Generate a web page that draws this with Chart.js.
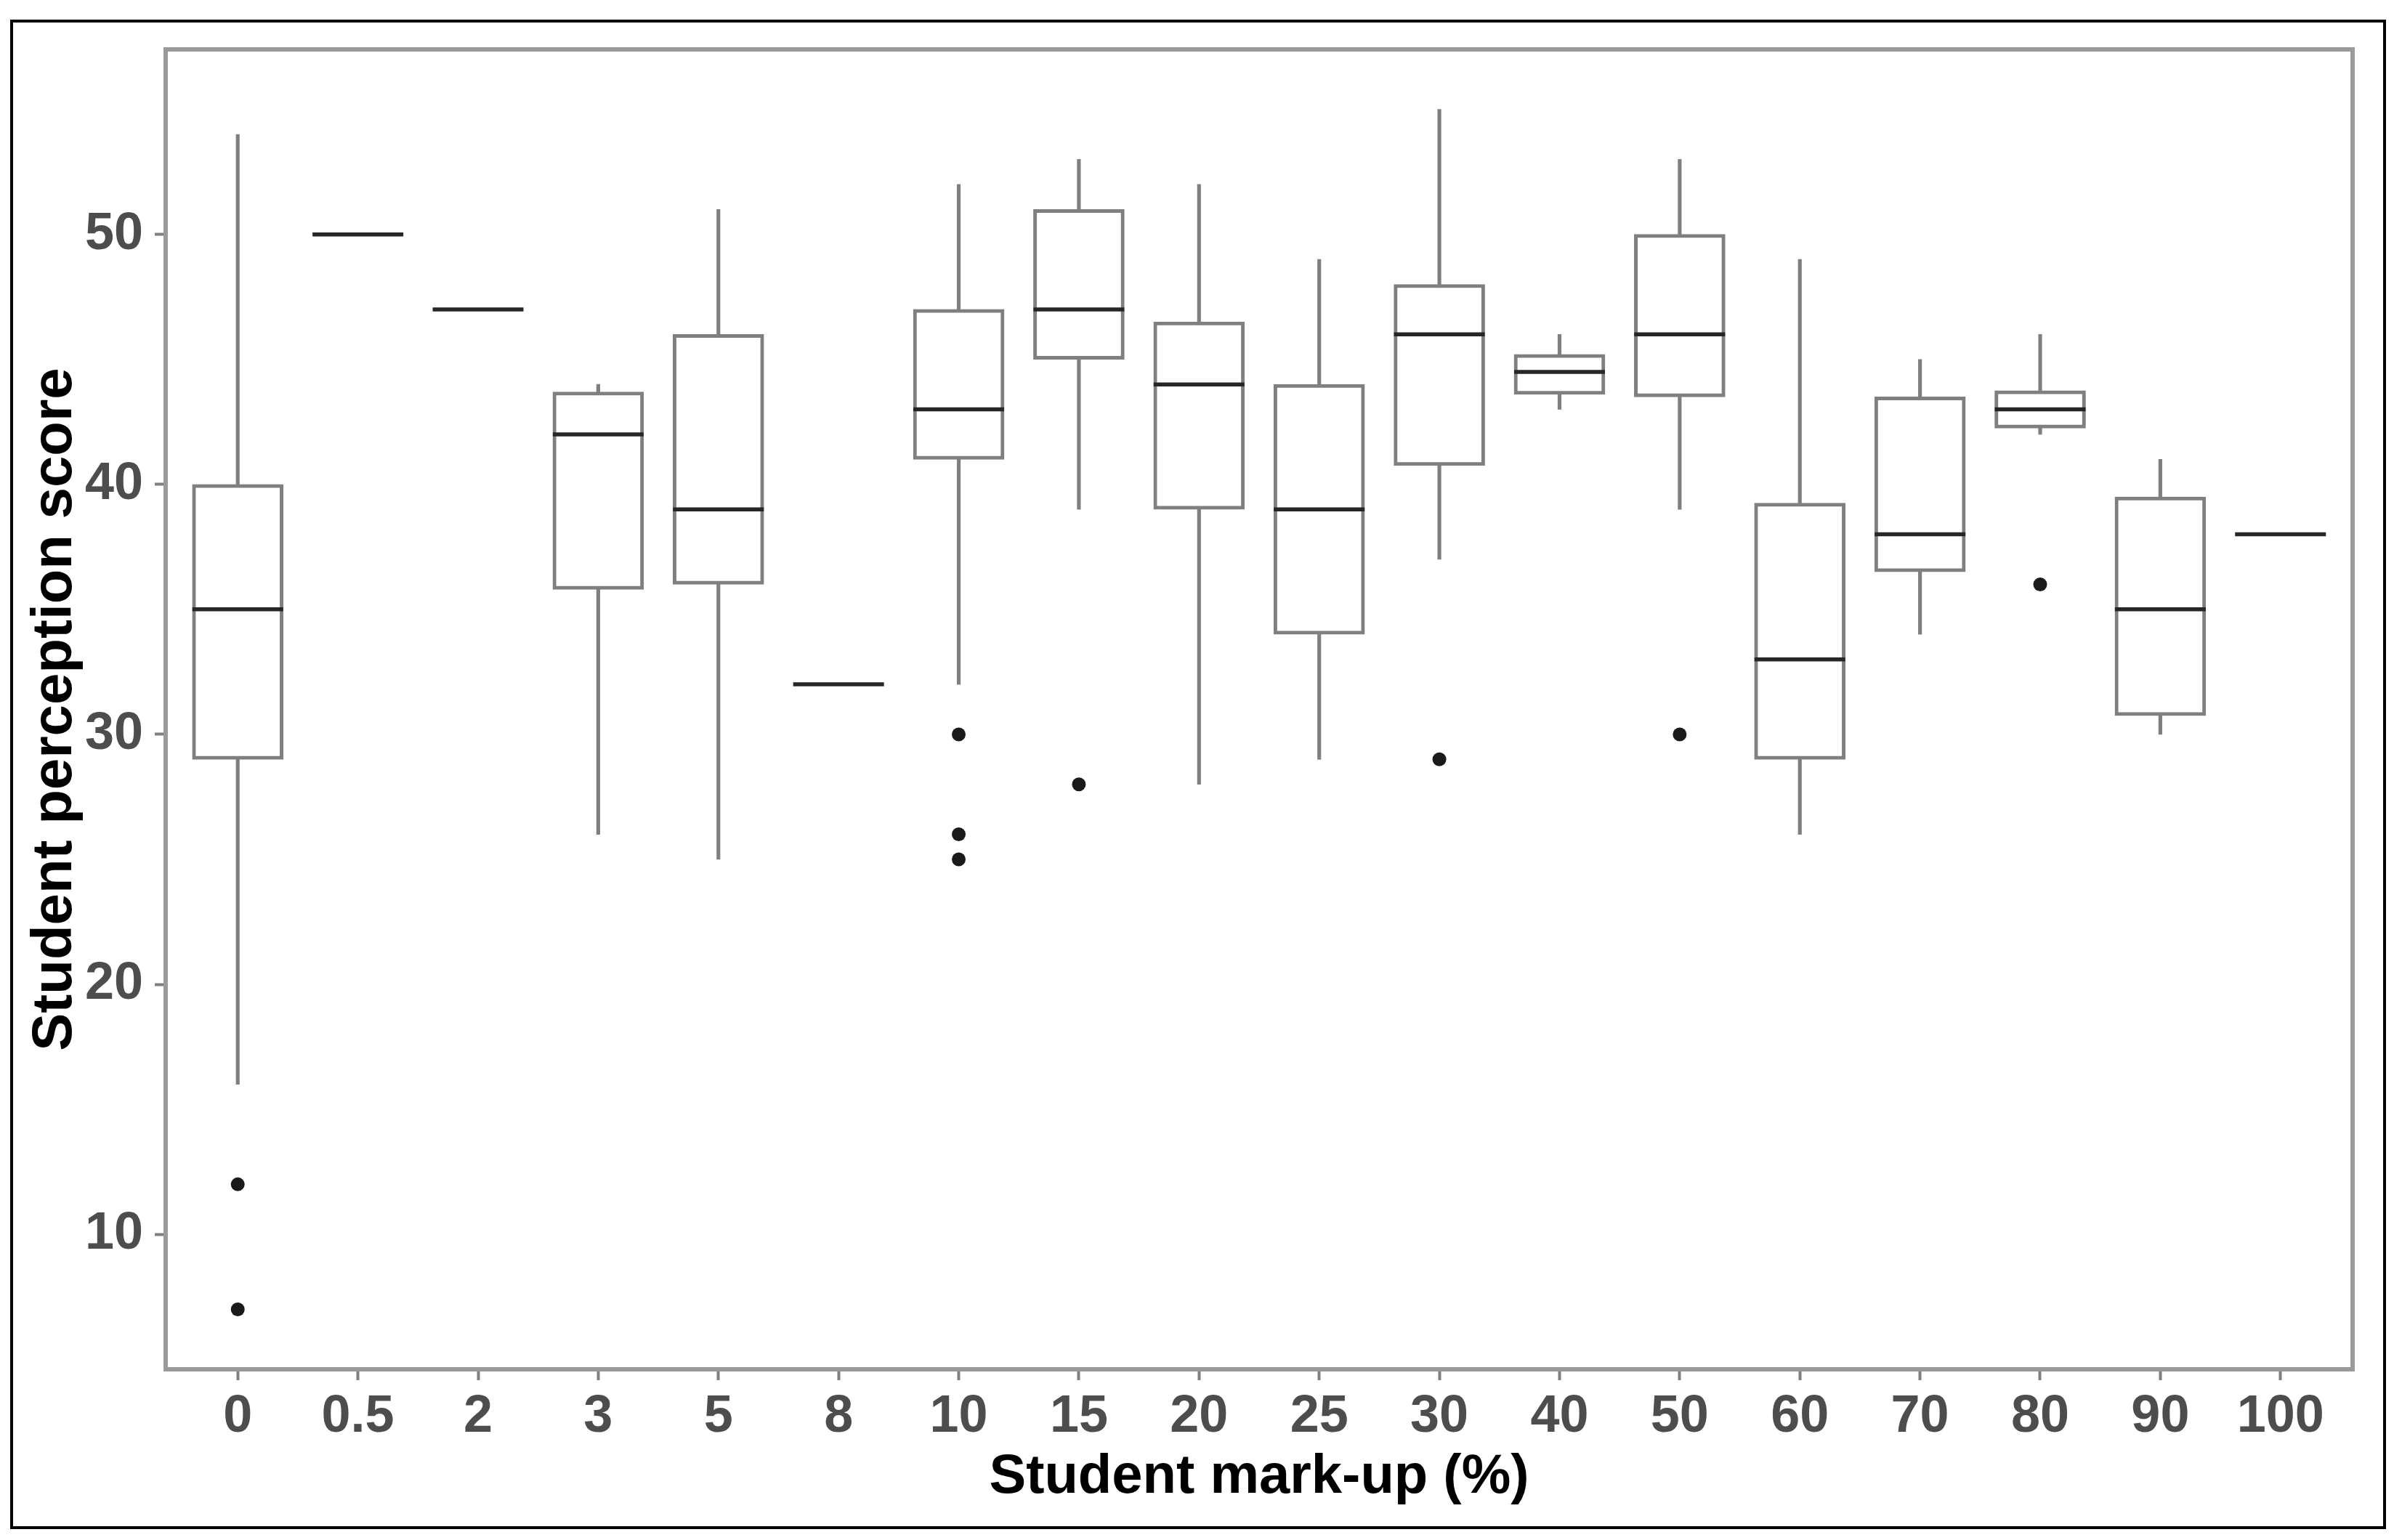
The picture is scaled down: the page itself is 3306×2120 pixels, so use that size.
<!DOCTYPE html>
<html>
<head>
<meta charset="utf-8">
<script src="https://cdn.jsdelivr.net/npm/chart.js@4.4.1/dist/chart.umd.min.js"></script>
<style>
  html, body { margin: 0; padding: 0; background: #fff; }
  #wrap { position: relative; width: 3306px; height: 2120px; }
  #frame { position: absolute; left: 14px; top: 27px; width: 3262px; height: 2070px;
           border: 4px solid #000; pointer-events: none; }
</style>
</head>
<body>
<div id="wrap">
  <canvas id="chart" width="3306" height="2120"></canvas>
  <div id="frame"></div>
</div>
<script>
// mark-up groups (x categories)
var labels = ['0', '0.5', '2', '3', '5', '8', '10', '15', '20', '25', '30', '40', '50', '60', '70', '80', '90', '100'];
// box plot statistics
var mins    = [16, 50, 47, 26,   25, 32, 32, 39, 28,   29, 37,    43,   39,   26,    34,   42,    30,    38];
var q1s     = [29, 50, 47, 35.8, 36, 32, 41, 45, 39,   34, 40.75, 43.6, 43.5, 29,    36.5, 42.25, 30.75, 38];
var medians = [35, 50, 47, 42,   39, 32, 43, 47, 44,   39, 46,    44.5, 46,   33,    38,   43,    35,    38];
var q3s     = [40, 50, 47, 43.7, 46, 32, 47, 51, 46.5, 44, 48,    45.2, 50,   39.25, 43.5, 43.75, 39.5,  38];
var maxs    = [54, 50, 47, 44,   51, 32, 52, 53, 52,   49, 55,    46,   53,   49,    45,   46,    41,    38];
// outliers
var outlierGroups = ['0', '0', '10', '10', '10', '15', '30', '50', '80'];
var outlierScores = [12, 7, 30, 26, 25, 28, 29, 30, 36];
var yTicks = [10, 20, 30, 40, 50];

var boxColor = '#7f7f7f';
var fontFamily = '"Liberation Sans", Arial, sans-serif';

var whiskerData = labels.map(function(l, i) { return {x: i, y: [mins[i], maxs[i]]}; });
var boxData = labels.map(function(l, i) { return {x: i, y: [q1s[i], q3s[i]]}; });
var medianData = labels.map(function(l, i) { return {x: i, y: medians[i]}; });
var outlierData = outlierGroups.map(function(g, i) { return {x: labels.indexOf(g), y: outlierScores[i]}; });

// grey panel border like ggplot
var panelBorder = {
  id: 'panelBorder',
  afterDatasetsDraw: function(chart) {
    var a = chart.chartArea, ctx = chart.ctx;
    ctx.save();
    ctx.strokeStyle = '#9a9a9a';
    ctx.lineWidth = 6;
    ctx.strokeRect(a.left, a.top, a.right - a.left, a.bottom - a.top);
    ctx.restore();
  }
};

new Chart(document.getElementById('chart'), {
  type: 'bar',
  data: {
    datasets: [
      {
        type: 'scatter', data: outlierData, order: 0,
        pointRadius: 9.5, pointBackgroundColor: '#1a1a1a', pointBorderWidth: 0
      },
      {
        type: 'scatter', data: medianData, order: 1,
        pointStyle: 'line', pointRadius: 62.5, pointBorderWidth: 5.5,
        pointBorderColor: '#262626', pointBackgroundColor: '#262626'
      },
      {
        data: boxData, order: 2, grouped: false, barThickness: 125,
        backgroundColor: '#ffffff', borderColor: boxColor, borderWidth: 5, borderSkipped: false
      },
      {
        data: whiskerData, order: 3, grouped: false, barThickness: 4.5,
        backgroundColor: boxColor, borderWidth: 0
      }
    ]
  },
  options: {
    responsive: false,
    animation: false,
    devicePixelRatio: 1,
    layout: { padding: { top: 56, right: 53, left: 0, bottom: 0 } },
    plugins: { legend: { display: false }, tooltip: { enabled: false } },
    scales: {
      x: {
        type: 'linear', min: -0.6, max: 17.6, offset: false,
        afterBuildTicks: function(axis) { axis.ticks = labels.map(function(l, i) { return {value: i}; }); },
        afterFit: function(axis) { axis.height = 235; axis.paddingLeft = 0; axis.paddingRight = 0; },
        border: { display: false },
        grid: { offset: false, drawOnChartArea: false, drawTicks: true, tickLength: 15, tickWidth: 4, tickColor: boxColor },
        ticks: {
          autoSkip: false, maxRotation: 0, padding: 8, color: '#4d4d4d',
          font: { family: fontFamily, size: 72, weight: 'bold' },
          callback: function(v) { return labels[v]; }
        },
        title: {
          display: true, text: 'Student mark-up (%)', color: '#000',
          font: { family: fontFamily, size: 76, weight: 'bold' },
          padding: { top: 0, bottom: 40 }
        }
      },
      y: {
        type: 'linear', min: 4.6, max: 57.4,
        afterBuildTicks: function(axis) { axis.ticks = yTicks.map(function(v) { return {value: v}; }); },
        afterFit: function(axis) { axis.width = 228; },
        border: { display: false },
        grid: { drawOnChartArea: false, drawTicks: true, tickLength: 15, tickWidth: 4, tickColor: boxColor },
        ticks: {
          padding: 16, color: '#4d4d4d',
          font: { family: fontFamily, size: 72, weight: 'bold' }
        },
        title: {
          display: true, text: 'Student perception score', color: '#000',
          font: { family: fontFamily, size: 78, weight: 'bold' },
          padding: { top: 30, bottom: 0 }
        }
      }
    }
  },
  plugins: [panelBorder]
});
</script>
</body>
</html>
